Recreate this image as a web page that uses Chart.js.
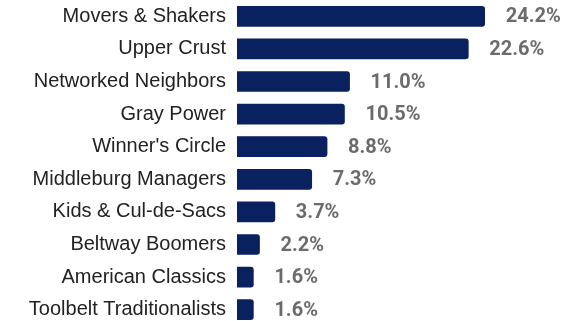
<!DOCTYPE html>
<html>
<head>
<meta charset="utf-8">
<script src="https://cdn.jsdelivr.net/npm/chart.js@4"></script>
<style>
    html, body { margin: 0; padding: 0; background: #fff; overflow: hidden; }
    canvas { display: block; }
</style>
</head>
<body>
<canvas id="segmentChart" width="585" height="326"></canvas>
<script>
const segments = [
    'Movers & Shakers',
    'Upper Crust',
    'Networked Neighbors',
    'Gray Power',
    "Winner's Circle",
    'Middleburg Managers',
    'Kids & Cul-de-Sacs',
    'Beltway Boomers',
    'American Classics',
    'Toolbelt Traditionalists'
];
const shares = [24.2, 22.6, 11.0, 10.5, 8.8, 7.3, 3.7, 2.2, 1.6, 1.6];

// value labels to the right of each bar
const valueLabels = {
    id: 'valueLabels',
    afterDatasetsDraw(chart) {
        const ctx = chart.ctx;
        const meta = chart.getDatasetMeta(0);
        ctx.save();
        ctx.font = 'bold 20px Roboto, "Liberation Sans", Arial, sans-serif';
        ctx.fillStyle = '#6b6b6b';
        ctx.textAlign = 'left';
        ctx.textBaseline = 'middle';
        meta.data.forEach((bar, i) => {
            ctx.fillText(shares[i].toFixed(1) + '%', bar.x + 21, bar.y + 1);
        });
        ctx.restore();
    }
};

document.addEventListener('DOMContentLoaded', () => {
    const ctx = document.getElementById('segmentChart');
    new Chart(ctx, {
        type: 'bar',
        data: {
            labels: segments,
            datasets: [{
                data: shares,
                backgroundColor: '#0a2160',
                borderWidth: 0,
                borderRadius: 3,
                barThickness: 20
            }]
        },
        options: {
            indexAxis: 'y',
            responsive: false,
            animation: false,
            layout: { padding: 0 },
            plugins: {
                legend: { display: false },
                tooltip: { enabled: false }
            },
            scales: {
                x: {
                    display: false,
                    min: 0,
                    max: 34
                },
                y: {
                    grid: { display: false, drawTicks: false },
                    border: { display: false },
                    ticks: {
                        color: '#222',
                        padding: 11,
                        autoSkip: false,
                        font: { family: '"Liberation Sans", Arial, sans-serif', size: 20 }
                    },
                    afterFit(scale) {
                        scale.width = 237;
                        scale.paddingTop = 0;
                        scale.paddingBottom = 0;
                    }
                }
            }
        },
        plugins: [valueLabels]
    });
});
</script>
</body>
</html>
